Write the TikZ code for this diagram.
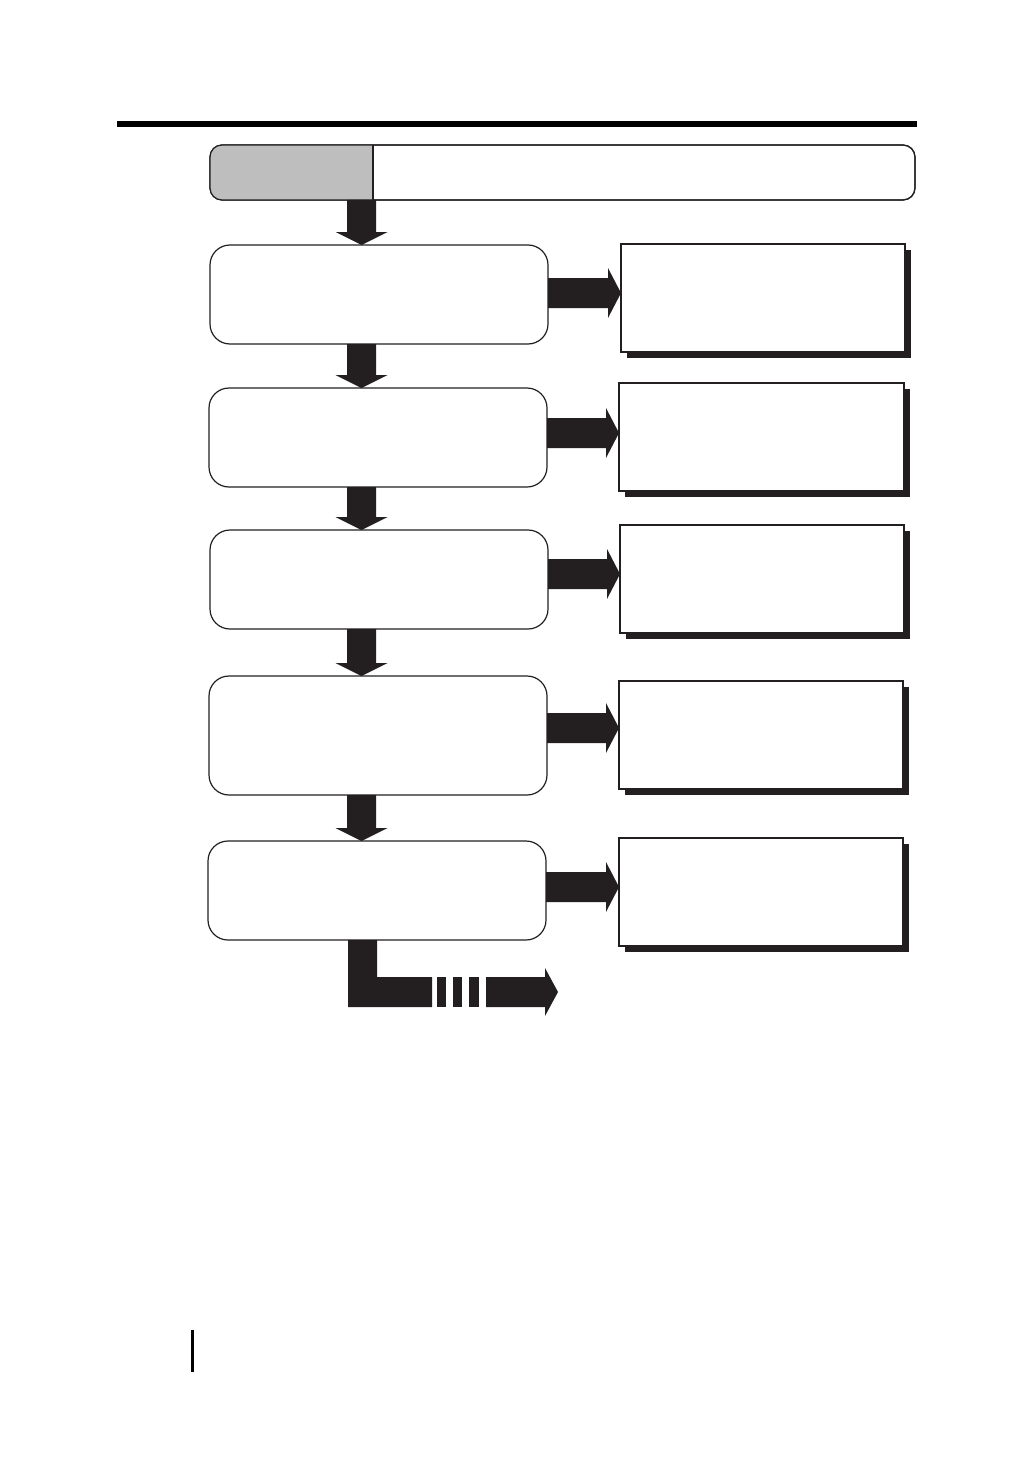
\documentclass[tikz,border=0pt]{standalone}
\usetikzlibrary{calc,shadows}
\definecolor{ink}{HTML}{231F20}
\definecolor{hgray}{HTML}{BEBEBE}
\tikzset{
  x=1pt, y=-1pt,
  stepbox/.style={draw=ink, line width=1.2pt, fill=white, rounded corners=20pt,
    minimum width=338pt, inner sep=0pt, outer sep=0pt},
  notebox/.style={draw=ink, line width=1.2pt, fill=white,
    minimum width=284pt, minimum height=108pt, inner sep=0pt, outer sep=0pt,
    drop shadow={shadow xshift=6pt, shadow yshift=-6pt, opacity=1, fill=ink}},
  hdrbox/.style={draw=ink, line width=1.2pt, fill=white, rounded corners=12pt,
    minimum width=705pt, minimum height=55pt, inner sep=0pt, outer sep=0pt},
  fatarrow/.style={fill=ink}
}
\newcommand\dnarrow[2]{%
  \fill[fatarrow] ($(#1)+(-14.5,0)$) -- ($(#1)+(14.5,0)$) -- ($(#2)+(14.5,-13)$)
    -- ($(#2)+(26,-13)$) -- (#2) -- ($(#2)+(-26,-13)$) -- ($(#2)+(-14.5,-13)$) -- cycle;}
\newcommand\rtarrow[2]{%
  \fill[fatarrow] ($(#1)+(0,-15)$) -- ($(#2)+(-13,-15)$) -- ($(#2)+(-13,-25)$)
    -- (#2) -- ($(#2)+(-13,25)$) -- ($(#2)+(-13,15)$) -- ($(#1)+(0,15)$) -- cycle;}
\begin{document}
\begin{tikzpicture}
\useasboundingbox[fill=white] (0,0) rectangle (1032,1458);

% top rule and page mark
\fill[black] (117,121) rectangle (917,127);
\fill[black] (190.5,1330) rectangle (193.5,1372);

% header
\node[hdrbox] (H) at (562.5,172.5) {};
\begin{scope}
  \clip[rounded corners=12pt] (H.north west) rectangle (H.south east);
  \fill[hgray] (H.north west) rectangle ([xshift=163pt]H.south west);
\end{scope}
\draw[ink, line width=1.2pt, rounded corners=12pt] (H.north west) rectangle (H.south east);
\draw[ink, line width=1.2pt] ([xshift=163pt]H.north west) -- ([xshift=163pt]H.south west);

% step boxes
\node[stepbox, minimum height=99pt]  (L1) at (379,294.5) {};
\node[stepbox, minimum height=99pt]  (L2) at (378,437.5) {};
\node[stepbox, minimum height=99pt]  (L3) at (379,579.5) {};
\node[stepbox, minimum height=119pt] (L4) at (378,735.5) {};
\node[stepbox, minimum height=99pt]  (L5) at (377,890.5) {};

% note boxes
\node[notebox] (R1) at (763,298) {};
\node[notebox, minimum width=285pt] (R2) at (761.5,437) {};
\node[notebox] (R3) at (762,579) {};
\node[notebox] (R4) at (761,735) {};
\node[notebox] (R5) at (761,892) {};

% down arrows
\coordinate (ax) at (361.5,0);
\coordinate (d0a) at (H.south -| ax);  \coordinate (d0b) at (L1.north -| ax);
\coordinate (d1a) at (L1.south -| ax); \coordinate (d1b) at (L2.north -| ax);
\coordinate (d2a) at (L2.south -| ax); \coordinate (d2b) at (L3.north -| ax);
\coordinate (d3a) at (L3.south -| ax); \coordinate (d3b) at (L4.north -| ax);
\coordinate (d4a) at (L4.south -| ax); \coordinate (d4b) at (L5.north -| ax);
\dnarrow{d0a}{d0b}
\dnarrow{d1a}{d1b}
\dnarrow{d2a}{d2b}
\dnarrow{d3a}{d3b}
\dnarrow{d4a}{d4b}

% right arrows
\coordinate (r1a) at ([yshift=1.5pt]L1.east); \coordinate (r1b) at (R1.west |- r1a);
\coordinate (r2a) at ([yshift=4.5pt]L2.east); \coordinate (r2b) at (R2.west |- r2a);
\coordinate (r3a) at ([yshift=5.5pt]L3.east); \coordinate (r3b) at (R3.west |- r3a);
\coordinate (r4a) at ([yshift=7.5pt]L4.east); \coordinate (r4b) at (R4.west |- r4a);
\coordinate (r5a) at ([yshift=3.5pt]L5.east); \coordinate (r5b) at (R5.west |- r5a);
\rtarrow{r1a}{r1b}
\rtarrow{r2a}{r2b}
\rtarrow{r3a}{r3b}
\rtarrow{r4a}{r4b}
\rtarrow{r5a}{r5b}

% continuation arrow
\coordinate (bx) at (348,0);
\coordinate (b0) at (L5.south -| bx);
\fill[fatarrow] (b0) -- ++(29,0) |- (432,977) -- (432,1007) -- (348,1007) -- cycle;
\fill[fatarrow] (437,977) rectangle (446,1007);
\fill[fatarrow] (453,977) rectangle (462,1007);
\fill[fatarrow] (469,977) rectangle (479,1007);
\coordinate (bend) at (558,992);
\fill[fatarrow] (486,977) -- (545,977) -- (545,968) -- (bend) -- (545,1016) -- (545,1007) -- (486,1007) -- cycle;
\end{tikzpicture}
\end{document}
